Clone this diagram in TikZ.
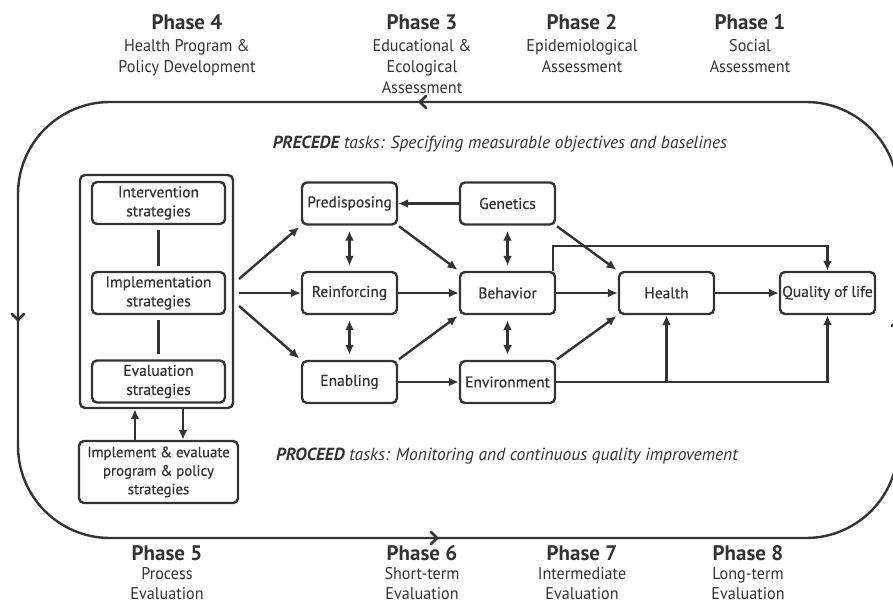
\documentclass[tikz,border=0pt]{standalone}
\usepackage{fontspec}
\setmainfont{PT Sans}
\newfontfamily\condfont[FakeStretch=0.95]{PT Sans}
\newfontfamily\boxfont[FakeBold=0.6]{PT Sans}
\usetikzlibrary{arrows.meta}
\definecolor{ink}{HTML}{333333}
\begin{document}
\begin{tikzpicture}[x=1pt,y=-1pt,line width=2.4pt,color=ink,
  box/.style={draw,rounded corners=5pt,minimum width=95pt,minimum height=42pt,inner sep=0pt,align=center,font=\boxfont\fontsize{15.5}{19}\selectfont},
  sbox/.style={box,minimum width=133pt},
  arr/.style={-{Latex[length=10pt,width=9pt]}},
  darr/.style={{Latex[length=10pt,width=9pt]}-{Latex[length=10pt,width=9pt]}},
  phase/.style={font=\bfseries\fontsize{21}{22}\selectfont,inner sep=0pt,anchor=base},
  sub/.style={font=\condfont\fontsize{17}{21}\selectfont,inner sep=0pt,align=center,anchor=north},
  task/.style={font=\itshape\fontsize{17.5}{20}\selectfont,inner sep=0pt}]
\useasboundingbox (0,0) rectangle (893,604);
\begin{scope}
\clip (0,0) rectangle (893,604);
% outer loop
\draw[rounded corners=92pt] (18,102) rectangle (898,538);
\draw[line cap=round,line join=round,line width=2.8pt] (426,96) -- (420,102) -- (426,108);
\draw[line cap=round,line join=round,line width=2.8pt] (431,532) -- (437,538) -- (431,544);
\draw[line cap=round,line join=round,line width=2.8pt] (12,314) -- (18,320) -- (24,314);
\draw[line cap=round,line join=round,line width=2.8pt] (892,326) -- (898,320) -- (904,326);
\end{scope}
% phase labels top
\node[phase] (p4) at (187,30) {Phase 4};
\node[sub] (p4s) at (187,38) {Health Program \&\\Policy Development};
\node[phase] (p3) at (422,30) {Phase 3};
\node[sub] (p3s) at (422,38) {Educational \&\\Ecological\\Assessment};
\node[phase] (p2) at (582,30) {Phase 2};
\node[sub] (p2s) at (582,38) {Epidemiological\\Assessment};
\node[phase] (p1) at (750,30) {Phase 1};
\node[sub] (p1s) at (750,38) {Social\\Assessment};
% phase labels bottom
\node[phase] (p5) at (167,560) {Phase 5};
\node[sub,font=\condfont\fontsize{17}{20.5}\selectfont] (p5s) at (167,566) {Process\\Evaluation};
\node[phase] (p6) at (422,560) {Phase 6};
\node[sub,font=\condfont\fontsize{17}{20.5}\selectfont] (p6s) at (422,566) {Short-term\\Evaluation};
\node[phase] (p7) at (582,560) {Phase 7};
\node[sub,font=\condfont\fontsize{17}{20.5}\selectfont] (p7s) at (582,566) {Intermediate\\Evaluation};
\node[phase] (p8) at (748,560) {Phase 8};
\node[sub,font=\condfont\fontsize{17}{20.5}\selectfont] (p8s) at (748,566) {Long-term\\Evaluation};
% task lines
\node[task] (precede) at (500,144) {\textbf{PRECEDE} tasks: Specifying measurable objectives and baselines};
\node[task] (proceed) at (507,456) {\textbf{PROCEED} tasks: Monitoring and continuous quality improvement};
% strategies
\node[draw,rounded corners=5pt,minimum width=153pt,minimum height=233pt,inner sep=0pt] (strat) at (156.5,291.5) {};
\node[sbox] (int) at (158.5,203) {Intervention\\strategies};
\node[sbox] (impl) at (158.5,293) {Implementation\\strategies};
\node[sbox] (eval) at (158.5,381.5) {Evaluation\\strategies};
\node[box,minimum width=159pt,minimum height=62pt,font=\boxfont\fontsize{14.8}{18.5}\selectfont] (impev) at (158.5,472) {Implement \& evaluate\\program \& policy\\strategies};
\draw[shorten <=5pt,shorten >=5pt] (int.south) -- (impl.north);
\draw[shorten <=5pt,shorten >=5pt] (impl.south) -- (eval.north);
\coordinate (ua) at (135,0);
\coordinate (da) at (183,0);
\draw[arr] (impev.north -| ua) -- (strat.south -| ua);
\draw[arr] (strat.south -| da) -- (impev.north -| da);
% factors
\node[box] (pred) at (349.5,203.5) {Predisposing};
\node[box] (gen) at (507.5,203.5) {Genetics};
\node[box] (reinf) at (349.5,293) {Reinforcing};
\node[box] (beh) at (507.5,293) {Behavior};
\node[box] (enab) at (349.5,382) {Enabling};
\node[box] (env) at (507.5,382) {Environment};
\node[box] (health) at (666.5,293) {Health};
\node[box] (qol) at (827.5,293) {Quality of life};
% arrows from strategies
\coordinate (o1) at (239,279);
\coordinate (o2) at (239,293);
\coordinate (o3) at (239,306);
\draw[arr,shorten >=2pt] (o1) -- (pred.south west);
\draw[arr] (o2) -- (reinf.west);
\draw[arr,shorten >=2pt] (o3) -- (enab.north west);
% factor arrows
\draw[arr] (gen.west) -- (pred.east);
\draw[darr,shorten <=5pt,shorten >=5pt] (pred.south) -- (reinf.north);
\draw[darr,shorten <=5pt,shorten >=5pt] (reinf.south) -- (enab.north);
\draw[darr,shorten <=5pt,shorten >=5pt] (gen.south) -- (beh.north);
\draw[darr,shorten <=5pt,shorten >=5pt] (beh.south) -- (env.north);
\draw[arr,shorten <=1pt,shorten >=1.5pt] (pred.south east) -- (beh.north west);
\draw[arr] (reinf.east) -- (beh.west);
\draw[arr,shorten <=1pt,shorten >=1.5pt] (enab.north east) -- (beh.south west);
\draw[arr] (enab.east) -- (env.west);
\draw[arr,shorten <=1pt,shorten >=1.5pt] (gen.south east) -- (health.north west);
\draw[arr] (beh.east) -- (health.west);
\draw[arr,shorten <=1pt,shorten >=1.5pt] (env.north east) -- (health.south west);
\draw[arr] (health.east) -- (qol.west);
\draw[arr] ([xshift=-3pt]beh.north east) -- ++(0,-25) -| (qol.north);
\draw[arr] (env.east) -| (qol.south);
\draw[arr] (env.east -| health.south) -- (health.south);
\end{tikzpicture}
\end{document}
